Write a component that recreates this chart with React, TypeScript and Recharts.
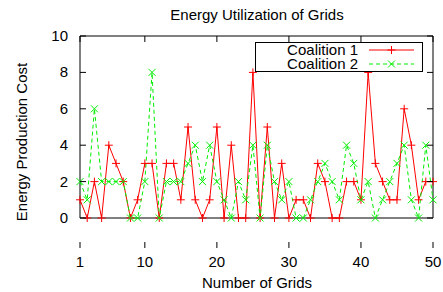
import React from 'react';
import { LineChart, Line, XAxis, YAxis, ReferenceArea, Legend } from 'recharts';

const grids = [1, 2, 3, 4, 5, 6, 7, 8, 9, 10, 11, 12, 13, 14, 15, 16, 17, 18, 19, 20, 21, 22, 23, 24, 25, 26, 27, 28, 29, 30, 31, 32, 33, 34, 35, 36, 37, 38, 39, 40, 41, 42, 43, 44, 45, 46, 47, 48, 49, 50];
const coalition1 = [1, 0, 2, 0, 4, 3, 2, 0, 1, 3, 3, 0, 3, 3, 1, 5, 1, 0, 1, 5, 0, 4, 0, 0, 8, 0, 5, 0, 3, 0, 1, 1, 0, 3, 2, 0, 0, 2, 2, 1, 8, 3, 2, 1, 1, 6, 4, 1, 2, 2];
const coalition2 = [2, 1, 6, 2, 2, 2, 2, 0, 0, 2, 8, 0, 2, 2, 2, 3, 4, 2, 4, 2, 1, 0, 2, 1, 4, 0, 4, 2, 1, 2, 0, 0, 1, 2, 3, 2, 1, 4, 3, 1, 2, 0, 1, 2, 3, 4, 1, 0, 4, 1];
const xTicks = [1, 10, 20, 30, 40, 50];
const yTicks = [0, 2, 4, 6, 8, 10];
const seriesNames = ['Coalition 1', 'Coalition 2'];

const data = grids.map((g, i) => ({ grid: g, c1: coalition1[i], c2: coalition2[i] }));

const W = 443;
const H = 292;
const PLOT_LEFT = 80;
const PLOT_RIGHT = 433;
const PLOT_TOP = 36;
const PLOT_BOTTOM = 248;
const Y_AXIS_W = 40;
const X_AXIS_H = 30;
const FONT = '"Liberation Sans", Arial, Helvetica, sans-serif';
const FS = 15;
const RED = '#ff0000';
const GREEN = '#00ee00';

const plusPath = (cx: number, cy: number, s: number) =>
  `M${cx - s},${cy}H${cx + s}M${cx},${cy - s}V${cy + s}`;
const crossPath = (cx: number, cy: number, s: number) =>
  `M${cx - s},${cy - s}L${cx + s},${cy + s}M${cx - s},${cy + s}L${cx + s},${cy - s}`;

const renderPlus = (p: any) => (
  <path key={`p-${p.index}`} d={plusPath(p.cx, p.cy, 4)} stroke={RED} strokeWidth={1} fill="none" />
);
const renderCross = (p: any) => (
  <path key={`x-${p.index}`} d={crossPath(p.cx, p.cy, 3.5)} stroke={GREEN} strokeWidth={1} fill="none" />
);

const XTick = (props: any) => {
  const { x, payload } = props;
  return (
    <g>
      <line x1={x} x2={x} y1={PLOT_BOTTOM} y2={PLOT_BOTTOM - 6} stroke="#000" />
      <line x1={x} x2={x} y1={PLOT_TOP} y2={PLOT_TOP + 6} stroke="#000" />
      <text x={x} y={PLOT_BOTTOM + 19} textAnchor="middle" fontSize={FS} fontFamily={FONT} fill="#000">
        {payload.value}
      </text>
    </g>
  );
};

const YTick = (props: any) => {
  const { y, payload } = props;
  return (
    <g>
      <line x1={PLOT_LEFT} x2={PLOT_LEFT + 6} y1={y} y2={y} stroke="#000" />
      <line x1={PLOT_RIGHT} x2={PLOT_RIGHT - 6} y1={y} y2={y} stroke="#000" />
      <text x={PLOT_LEFT - 12} y={y + 5} textAnchor="end" fontSize={FS} fontFamily={FONT} fill="#000">
        {payload.value}
      </text>
    </g>
  );
};

const LegendBox = () => (
  <svg width={168} height={30} style={{ display: 'block' }}>
    <rect x={0.5} y={0.5} width={167} height={29} fill="#fff" stroke="#000" strokeWidth={1} />
    <text x={103} y={13} textAnchor="end" fontSize={FS} fontFamily={FONT} fill="#000">{seriesNames[0]}</text>
    <line x1={114} x2={159} y1={8} y2={8} stroke={RED} strokeWidth={1} />
    <path d={plusPath(136.5, 8, 4)} stroke={RED} fill="none" />
    <text x={103} y={27} textAnchor="end" fontSize={FS} fontFamily={FONT} fill="#000">{seriesNames[1]}</text>
    <line x1={114} x2={159} y1={22} y2={22} stroke={GREEN} strokeWidth={1} strokeDasharray="4 3" />
    <path d={crossPath(136.5, 22, 3.5)} stroke={GREEN} fill="none" />
  </svg>
);

export default function App() {
  return (
    <div style={{ position: 'absolute', left: 0, top: 0, width: W, height: H, background: '#fff', fontFamily: FONT }}>
      <div style={{ position: 'absolute', left: 0, width: W, top: 5, textAlign: 'center', fontSize: FS, paddingLeft: 70, boxSizing: 'border-box', lineHeight: '20px' }}>
        <span style={{ position: 'absolute', left: 257, transform: 'translateX(-50%)', whiteSpace: 'nowrap' }}>Energy Utilization of Grids</span>
      </div>
      <LineChart
        width={W}
        height={H}
        data={data}
        margin={{ top: PLOT_TOP, right: W - PLOT_RIGHT, left: PLOT_LEFT - Y_AXIS_W, bottom: H - PLOT_BOTTOM - X_AXIS_H }}
      >
        <XAxis
          dataKey="grid"
          type="number"
          domain={[1, 50]}
          ticks={xTicks}
          height={X_AXIS_H}
          tickSize={0}
          tickMargin={0}
          tickLine={false}
          axisLine={false}
          tick={<XTick />}
          interval={0}
        />
        <YAxis
          type="number"
          domain={[0, 10]}
          ticks={yTicks}
          width={Y_AXIS_W}
          tickSize={0}
          tickMargin={0}
          tickLine={false}
          axisLine={false}
          tick={<YTick />}
          interval={0}
        />
        <ReferenceArea x1={1} x2={50} y1={0} y2={10} fill="none" stroke="#000" strokeWidth={1} ifOverflow="visible" />
        <Line
          dataKey="c1"
          name={seriesNames[0]}
          stroke={RED}
          strokeWidth={1}
          dot={renderPlus}
          activeDot={false}
          isAnimationActive={false}
        />
        <Line
          dataKey="c2"
          name={seriesNames[1]}
          stroke={GREEN}
          strokeWidth={1}
          strokeDasharray="4 3"
          dot={renderCross}
          activeDot={false}
          isAnimationActive={false}
        />
        <Legend
          content={<LegendBox />}
          wrapperStyle={{ position: 'absolute', left: 255, top: 42, width: 168, height: 30 }}
        />
      </LineChart>
      <div style={{ position: 'absolute', left: 257, top: 273, transform: 'translateX(-50%)', fontSize: FS, whiteSpace: 'nowrap', lineHeight: '20px' }}>
        Number of Grids
      </div>
      <div style={{ position: 'absolute', left: 22, top: 142, transform: 'translate(-50%, -50%) rotate(-90deg)', fontSize: FS, whiteSpace: 'nowrap', lineHeight: '20px' }}>
        Energy Production Cost
      </div>
    </div>
  );
}
